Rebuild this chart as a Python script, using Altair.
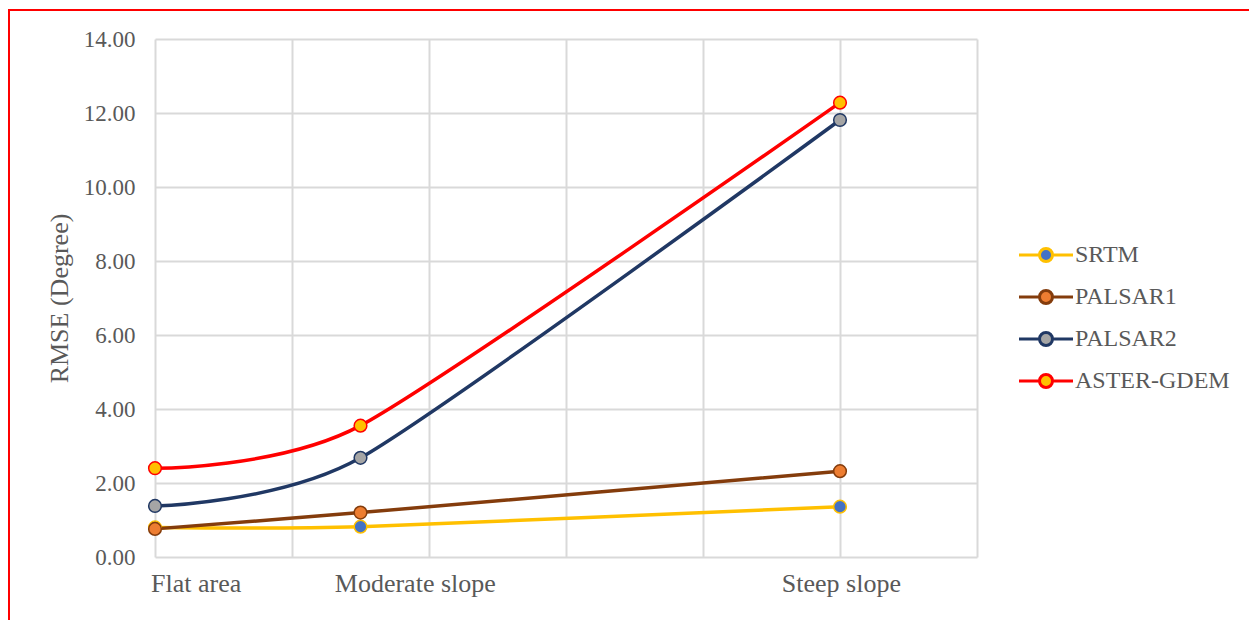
import altair as alt
import pandas as pd

categories = ["Flat area", "Moderate slope", "Steep slope"]
cat_x = [0, 1.5, 5]
label_x = [0.30, 1.90, 5.01]
series = ["SRTM", "PALSAR1", "PALSAR2", "ASTER-GDEM"]
srtm = [0.80, 0.82, 1.36]
palsar1 = [0.76, 1.20, 2.32]
palsar2 = [1.38, 2.68, 11.81]
aster = [2.40, 3.55, 12.28]
line_colors = ["#FFC000", "#843C0C", "#203864", "#FF0000"]
fill_colors = ["#4472C4", "#ED7D31", "#A5A5A5", "#FFC000"]
y_ticks = [0, 2, 4, 6, 8, 10, 12, 14]
x_grid = [0, 1, 2, 3, 4, 5, 6]

rows = []
for name, vals in zip(series, [srtm, palsar1, palsar2, aster]):
    for c, xv, v in zip(categories, cat_x, vals):
        rows.append({"series": name, "category": c, "x": xv, "rmse": v})
df = pd.DataFrame(rows)
lab_df = pd.DataFrame({"label": categories, "lx": label_x})

FONT = "Liberation Serif"
GRAY = "#595959"

sym = ("M-2.7,0L-0.65,0M0.65,0A0.65,0.65,0,1,1,-0.65,0"
       "A0.65,0.65,0,1,1,0.65,0M0.65,0L2.7,0")

legend = alt.Legend(title=None, orient="none", legendX=879, legendY=204,
                    symbolType=sym, symbolSize=400, symbolStrokeWidth=3,
                    labelFont=FONT, labelFontSize=24, labelColor=GRAY,
                    labelOffset=17, rowPadding=16, padding=0)

xenc = alt.X("x:Q", scale=alt.Scale(domain=[0, 6], nice=False, zero=False),
             axis=alt.Axis(values=x_grid, labels=False, ticks=False, domain=False,
                           title=None, grid=True))
yenc = alt.Y("rmse:Q", scale=alt.Scale(domain=[0, 14], nice=False),
             axis=alt.Axis(values=y_ticks, format=".2f", ticks=False, domain=False,
                           labelFont=FONT, labelFontSize=23, labelColor=GRAY,
                           labelPadding=20, title="RMSE (Degree)", titleFont=FONT,
                           titleFontSize=26, titleColor=GRAY, titleFontWeight="normal",
                           titleX=-96, titleBaseline="middle", grid=True))
stroke_enc = alt.Stroke("series:N", scale=alt.Scale(domain=series, range=line_colors),
                        legend=legend)
fill_enc = alt.Fill("series:N", scale=alt.Scale(domain=series, range=fill_colors),
                    legend=legend)

base = alt.Chart(df)
lines = base.mark_line(interpolate="cardinal", tension=0.3, strokeWidth=3.5).encode(
    x=xenc, y=yenc, stroke=stroke_enc, detail="series:N")
points = base.mark_point(shape="circle", filled=True, size=160, strokeWidth=1.5,
                         opacity=1).encode(
    x=xenc, y=yenc, stroke=stroke_enc, fill=fill_enc)

labels = alt.Chart(lab_df).mark_text(font=FONT, fontSize=26, color=GRAY,
                                     baseline="middle", align="center").encode(
    x=alt.X("lx:Q"), y=alt.value(545), text="label:N")

border = alt.Chart(pd.DataFrame({"a": [0]})).mark_rect(
    fill="transparent", stroke="#FF0000", strokeWidth=2, clip=False).encode(
    x=alt.value(-146), x2=alt.value(1300), y=alt.value(-29), y2=alt.value(800))

chart = alt.layer(lines, points, labels, border).properties(
    width=822, height=518,
    autosize=alt.AutoSizeParams(type="none"),
    padding={"left": 155, "top": 39, "right": 272, "bottom": 63},
    background="white",
).configure_view(stroke=None).configure_axis(
    gridColor="#D9D9D9", gridWidth=2)

chart.save("out.html", embed_options={"renderer": "svg", "actions": False})
